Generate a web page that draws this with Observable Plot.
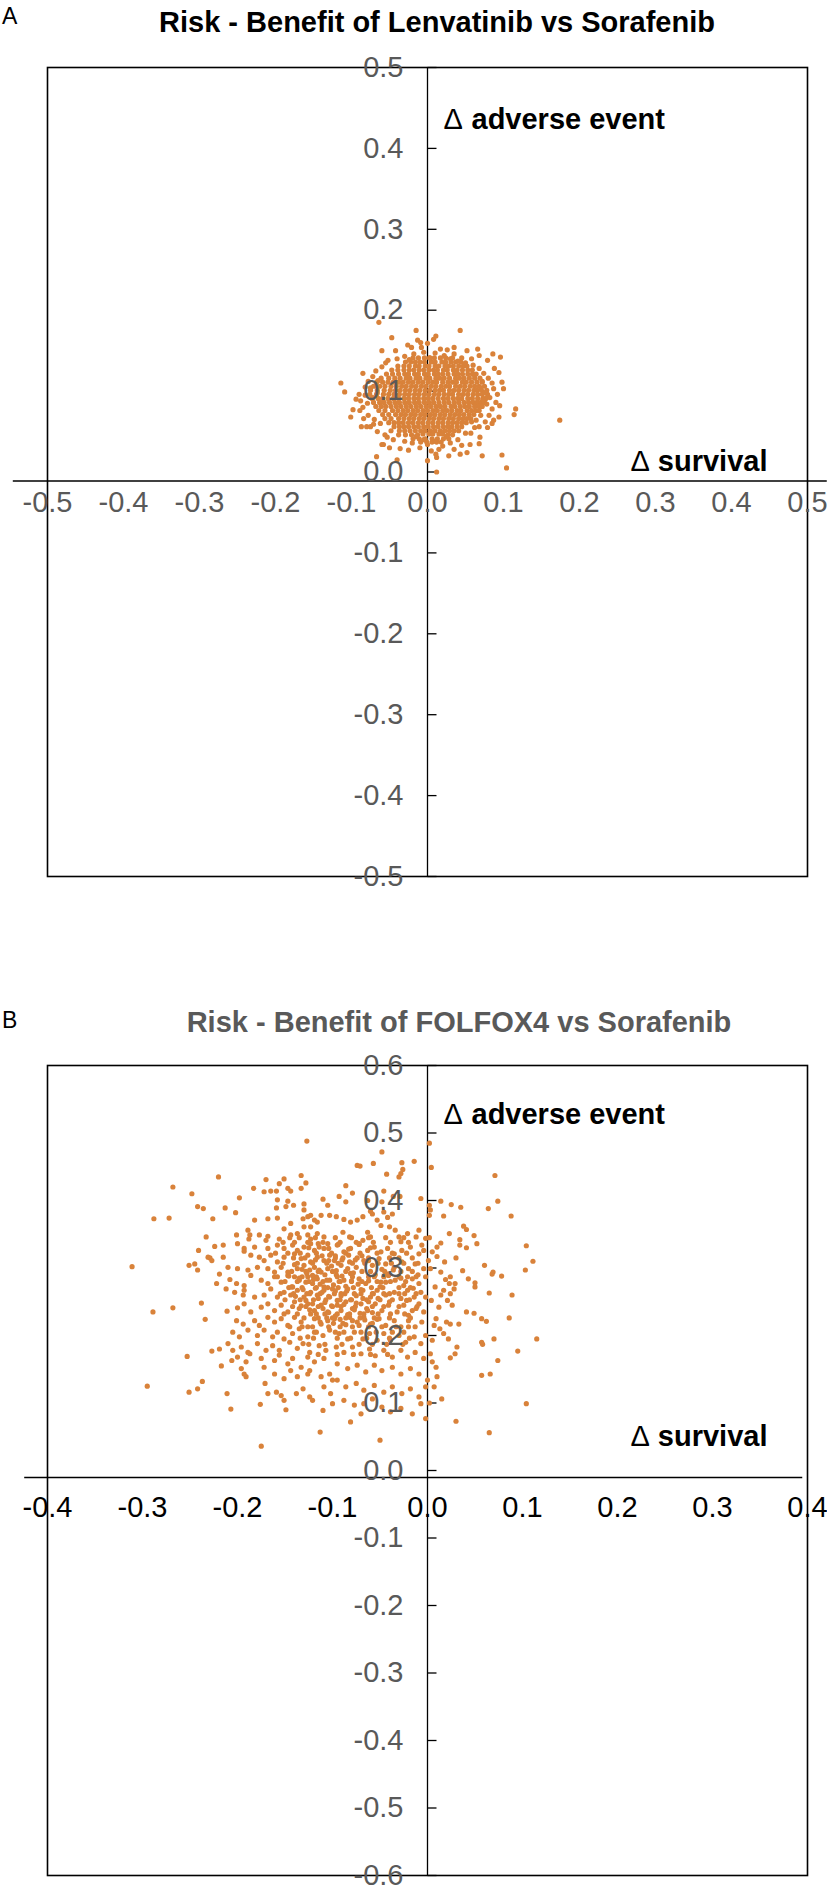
<!DOCTYPE html>
<html>
<head>
<meta charset="utf-8">
<script src="https://cdn.jsdelivr.net/npm/d3@7"></script>
<script src="https://cdn.jsdelivr.net/npm/@observablehq/plot@0.6"></script>
<style>
  html, body { margin: 0; padding: 0; background: #fff; }
  #fig { position: relative; width: 827px; height: 1890px; background: #fff;
         font-family: 'Liberation Sans', Arial, Helvetica, sans-serif; }
  .lbl { position: absolute; font-size: 23px; line-height: 23px; color: #000; }
  .title { position: absolute; font-size: 29px; line-height: 29px; font-weight: bold;
           white-space: nowrap; transform: translateX(-50%); }
  .panel { position: absolute; left: 0; }
</style>
</head>
<body>
<div id="fig">
  <div class="lbl" style="left:2px; top:5px;">A</div>
  <div class="title" style="left:437px; top:8px; color:#000;">Risk - Benefit of Lenvatinib vs Sorafenib</div>
  <div class="panel" id="panelA" style="top:40px;"></div>
  <div class="lbl" style="left:2px; top:1009px;">B</div>
  <div class="title" style="left:459px; top:1008px; color:#595959;">Risk - Benefit of FOLFOX4 vs Sorafenib</div>
  <div class="panel" id="panelB" style="top:1040px;"></div>
</div>
<script>
// ---------- tick values ----------
const lenvatinibTicks = [-0.5, -0.4, -0.3, -0.2, -0.1, 0, 0.1, 0.2, 0.3, 0.4, 0.5];
const folfoxXTicks = [-0.4, -0.3, -0.2, -0.1, 0, 0.1, 0.2, 0.3, 0.4];
const folfoxYTicks = [-0.6, -0.5, -0.4, -0.3, -0.2, -0.1, 0, 0.1, 0.2, 0.3, 0.4, 0.5, 0.6];

// ---------- Panel A: Lenvatinib vs Sorafenib  [Δ survival, Δ adverse event] in thousandths ----------
const lenvatinibOuter = [[-64,185],[-15,175],[43,175],[11,168],[8,164],[-47,166],[0,159],[-13,163],[-9,160],[-60,150],[-42,150],[-26,157],[-21,154],[26,151],[35,154],[52,150],[66,152],[68,144],[86,146],[96,142],[79,138],[94,123],[98,111],[100,103],[87,103],[-114,110],[-109,99],[-85,122],[-98,77],[-101,68],[-87,56],[-80,56],[-71,59],[-58,34],[-67,19],[-40,15],[-36,29],[0,14],[12,0],[11,22],[12,18],[28,20],[43,22],[52,24],[56,34],[68,35],[69,43],[72,20],[98,21],[104,5],[116,78],[114,71],[174,64],[94,68],[87,64],[81,70],[79,55],[62,55],[57,48],[-53,43],[-60,34],[-48,51],[-89,76],[-75,56]];
const lenvatinibRing = [[-30,143],[-18,146],[-5,148],[10,147],[22,144],[35,146],[45,141],[58,140],[-40,140],[-52,138],[17,152],[-8,154],[30,140],[3,141],[-24,139],[40,137],
  [-60,130],[-68,125],[-72,118],[-78,112],[-65,113],[60,132],[68,128],[74,122],[80,116],[85,110],[72,112],[-55,135],[50,135],[-82,105],[88,128],[62,120],
  [-75,104],[-82,95],[-88,88],[-79,85],[-85,80],[-72,92],[-66,98],[-90,96],[70,104],[76,98],[82,92],[90,86],[78,84],[85,78],[73,90],[92,96],[-94,90],[95,82],
  [-78,70],[-70,65],[-62,60],[-84,66],[-66,50],[-56,46],[70,70],[64,64],[76,62],[68,56],[58,62],[85,60],[50,48],[-45,40],[-30,38],
  [-20,36],[-10,30],[0,34],[10,38],[20,32],[30,36],[40,40],[-25,27],[5,26],[15,28],[35,28],[-5,40],[25,44],[-38,46],[45,33],[-15,44],[-50,30]];
const lenvatinibCoreRows = [
  [136, [-10,-4,5,10,19,24]],
  [131, [-24,-16,-11,-3,2,10,15,23,28,34,41]],
  [126, [-31,-24,-18,-11,-5,2,8,13,21,26,34,39,46]],
  [121, [-38,-30,-25,-17,-12,-4,1,9,14,20,27,35,40,46,53]],
  [116, [-43,-36,-28,-23,-15,-10,-2,3,11,16,22,29,37,42,48,55]],
  [111, [-45,-38,-32,-25,-19,-12,-6,1,7,12,20,27,33,38,46,51,58]],
  [106, [-48,-41,-34,-28,-21,-15,-8,-2,5,11,18,24,29,37,43,49,56,62]],
  [101, [-49,-42,-36,-29,-23,-16,-10,-3,3,10,16,21,29,35,41,48,54,61,65]],
  [96,  [-51,-44,-37,-30,-24,-17,-11,-4,2,9,15,22,28,33,41,47,53,60,66]],
  [91,  [-52,-45,-38,-31,-25,-18,-12,-5,1,7,14,21,27,34,40,45,53,59,66]],
  [86,  [-50,-43,-37,-30,-24,-17,-11,-4,2,8,15,22,28,35,41,48,54,60,65]],
  [81,  [-48,-41,-35,-28,-22,-15,-9,-2,4,11,17,23,31,36,43,49,55,62]],
  [76,  [-46,-39,-32,-26,-19,-13,-6,0,7,13,20,26,32,39,44,52,58]],
  [71,  [-42,-35,-29,-22,-16,-9,-3,4,10,17,23,30,36,42,48,55]],
  [66,  [-38,-31,-24,-18,-11,-5,2,8,15,21,28,34,41,47,52]],
  [61,  [-32,-25,-19,-12,-6,1,7,14,20,27,33,39,45]],
  [56,  [-25,-18,-12,-5,1,8,14,21,27,32,39]],
  [51,  [-16,-9,-3,4,10,17,23,29]],
  [47,  [-6,2,7,15,20]]
];
const lenvatinibFringeRows = [
  [141, [-19,-12,-4,3,9,17,24,33]],
  [136, [-29,-22,-16,31,37,44]],
  [131, [-39,-31,47,52]],
  [126, [-47,-39,53,59]],
  [121, [-54,-46,59,64]],
  [116, [-61,-51,62,69]],
  [111, [-67,-59,-52,65,72]],
  [106, [-71,-63,-56,68,75]],
  [101, [-75,-66,-57,71,78]],
  [96,  [-76,-67,-58,72,79]],
  [91,  [-73,-65,-59,73,77]],
  [86,  [-71,-63,-57,70,75]],
  [81,  [-68,-61,-55,68,72]],
  [76,  [-64,-56,64,68]],
  [71,  [-59,-51,61]],
  [66,  [-56,-48,57]],
  [61,  [-51,-44,-38,51]],
  [56,  [-44,-37,-31,45]],
  [51,  [-37,-30,-23,35,41]],
  [46,  [-29,-21,-13,27,33]],
  [41,  [-19,-11,-3,6,13,21,28]],
  [37,  [-9,-1,6,12,18]]
];

// ---------- Panel B: FOLFOX4 vs Sorafenib  [Δ survival, Δ adverse event] in thousandths ----------
const folfoxLeft = [[-127,488],
  [-220,435],[-170,431],[-151,432],[-133,437],
  [-268,420],[-128,426],[-156,425],[-147,418],[-144,414],[-183,418],[-172,413],[-165,414],[-159,414],[-133,418],
  [-248,410],[-198,404],[-158,401],[-147,399],[-141,393],[-130,395],[-110,402],
  [-242,391],[-236,388],[-213,389],[-202,382],[-159,389],[-149,391],[-130,386],[-105,393],
  [-288,373],[-272,374],[-226,373],[-182,371],[-168,373],[-158,374],[-131,373],[-126,376],[-123,378],[-119,371],[-112,378],[-103,378],
  [-144,366],[-151,358],[-116,368],[-189,356],[-130,361],[-123,361],
  [-233,346],[-201,349],[-187,349],[-177,349],[-168,347],[-188,343],[-170,341],[-156,343],[-144,349],[-137,351],[-126,349],[-123,343],[-116,351],[-109,346],
  [-200,336],[-224,332],[-215,334],[-193,329],[-193,325],[-182,331],[-168,329],[-158,334],[-151,329],[-142,334],[-137,326],[-130,331],[-123,336],[-119,326],[-114,331],[-109,329],[-105,336],
  [-241,326],[-231,316],[-229,315],[-227,311],[-215,316],[-186,319],[-177,316],[-172,311],[-165,319],[-158,309],[-151,316],[-140,321],[-133,314],[-126,319],[-123,309],[-116,316],[-109,311],[-103,319],
  [-251,304],[-245,306],[-311,302],[-242,297],[-210,301],[-200,299],[-189,297],[-179,301],[-168,299],[-161,294],[-154,301],[-147,294],[-137,299],[-130,304],[-124,297],[-119,301],[-112,294],[-105,299],
  [-219,291],[-222,277],[-208,283],[-201,277],[-193,274],[-186,289],[-175,282],[-168,277],[-161,287],[-154,279],[-147,289],[-142,272],[-135,282],[-126,287],[-121,277],[-116,284],[-109,272],[-103,282],
  [-212,269],[-203,264],[-194,260],[-193,267],[-182,257],[-172,260],[-165,269],[-158,257],[-151,264],[-144,260],[-137,267],[-130,257],[-123,264],[-116,260],[-109,267],[-103,257],
  [-238,248],[-211,236],[-289,235],[-268,241],[-200,241],[-193,247],[-186,235],[-175,242],[-168,247],[-161,237],[-154,245],[-147,235],[-140,250],[-135,240],[-126,247],[-119,237],[-112,245],[-105,235],
  [-234,224],[-201,222],[-194,217],[-182,222],[-177,215],[-168,227],[-161,220],[-154,225],[-147,215],[-140,227],[-133,220],[-126,213],[-119,225],[-112,217],[-105,222],
  [-205,205],[-198,198],[-189,208],[-179,200],[-172,208],[-163,198],[-158,205],[-151,195],[-142,203],[-135,210],[-126,198],[-119,205],[-110,200],[-103,208],
  [-227,177],[-219,180],[-210,188],[-205,178],[-196,183],[-189,175],[-179,188],[-170,178],[-163,185],[-156,178],[-145,190],[-137,181],[-131,188],[-124,175],[-114,185],[-107,178],
  [-253,169],[-217,155],[-206,163],[-200,168],[-191,161],[-187,173],[-175,166],[-172,153],[-161,163],[-156,171],[-147,158],[-142,166],[-133,153],[-126,168],[-119,161],[-109,166],
  [-196,151],[-191,139],[-193,143],[-171,129],[-161,143],[-151,136],[-144,148],[-137,139],[-126,143],[-124,148],[-112,139],[-103,143],[-100,134],
  [-295,125],[-251,116],[-242,121],[-237,132],[-211,114],[-168,114],[-159,116],[-154,111],[-138,114],[-131,121],[-124,109],[-109,124],[-102,114],
  [-207,91],[-176,98],[-149,90],[-151,104],[-121,104],[-110,89],[-100,99],
  [-175,36],[-113,57]];
const folfoxRight = [[2,485],[4,449],[71,437],[74,399],[64,388],[88,377],[104,333],[111,310],[103,297],[115,195],[95,177],[104,99],[65,56],[30,73],[15,106],
  [14,399],[25,394],[35,390],[17,377],[38,362],[41,357],[23,351],[34,342],[34,334],[41,330],[10,317],[18,309],[30,315],[60,304],[69,294],[68,291],[78,288],
  [37,296],[43,284],[50,278],[19,283],[23,277],[29,277],[28,269],[65,263],[89,260],[41,235],[49,233],[57,225],[62,221],[86,226],[70,195],[57,190],[58,187],
  [74,163],[57,141],[66,143],[20,220],[24,217],[33,217],[21,252],[17,267],[14,260],[24,262],[26,245],[13,210],[17,203],[22,195],[31,183],[29,173],[24,167],
  [9,225],[7,215],[5,193],[3,173],[10,139],[7,124],[5,161],[9,153],[2,100],[12,242],[24,287],[14,294],[10,331],[5,324],[14,337],
  [2,393],[3,386],[2,378],[2,345],[1,311],[3,299],[8,272],[4,252],[52,336],[49,348],[50,272],
  [-48,472],[-74,452],[-71,451],[-57,455],[-27,456],[-14,458],[-43,439],[-30,435],[-26,446],[-28,440],[-86,422],[-7,403],[-46,414],[-36,406],[-29,406],
  [-63,400],[-48,398],[-60,384],[-58,380],[-37,380],[-46,383],[-42,375],[-93,406],[-86,398],[-79,411],[-96,376],[-88,372],[-81,368],[-74,371],[-68,376],
  [-53,371],[-49,363],[-40,361],[-34,356],[-21,351],[-12,346],[-9,356],[-2,344],[-30,346],[-28,339],[-63,353],[-60,346],[-68,341],[-89,353],[-82,346],
  [-95,334],[-88,324],[-81,329],[-72,335],[-63,326],[-56,331],[-49,324],[-42,329],[-35,321],[-27,326],[-18,331],[-9,321],[-4,326],[-6,334],
  [-98,311],[-91,304],[-82,309],[-75,301],[-67,311],[-58,304],[-51,314],[-44,306],[-35,301],[-27,309],[-20,299],[-13,306],[-4,299],
  [-96,290],[-88,282],[-81,292],[-72,284],[-65,277],[-56,287],[-49,279],[-41,289],[-34,282],[-25,274],[-16,284],[-9,277],[-2,287],
  [-100,269],[-91,262],[-84,269],[-75,259],[-68,267],[-60,257],[-53,267],[-44,260],[-35,264],[-28,255],[-21,267],[-14,257],[-7,264],[-2,257],
  [-95,245],[-86,250],[-79,240],[-70,247],[-63,237],[-55,247],[-48,237],[-41,245],[-32,235],[-25,245],[-16,237],[-9,247],[-4,235],
  [-98,225],[-89,218],[-82,227],[-74,220],[-67,227],[-58,218],[-51,225],[-44,215],[-35,222],[-28,213],[-20,222],[-13,213],[-6,220],
  [-93,203],[-84,195],[-77,205],[-68,195],[-61,203],[-53,193],[-46,203],[-39,193],[-30,200],[-23,190],[-14,198],[-7,188],[-2,200],
  [-96,183],[-88,175],[-79,183],[-70,173],[-61,180],[-55,170],[-46,178],[-37,168],[-28,178],[-21,168],[-13,175],[-4,166],
  [-95,158],[-84,151],[-74,156],[-65,146],[-56,156],[-48,148],[-37,153],[-28,143],[-18,151],[-9,143],
  [-95,134],[-86,124],[-75,129],[-67,119],[-56,126],[-46,116],[-37,124],[-27,114],[-18,121],[-9,109],
  [-88,104],[-77,97],[-67,99],[-58,106],[-48,94],[-39,87],[-28,92],[-16,84],[-7,99],[-2,77],[-50,45],[-81,72],[-70,84],[-2,124],[0,134]];
const folfoxCoreRows = [
  [345, [-145,-135,-118,-97,-80,-62,-44,-25]],
  [338, [-152,-140,-126,-110,-92,-75,-57,-39,-20]],
  [322, [-160,-147,-134,-117,-101,-86,-71,-53,-37,-22]],
  [315, [-141,-129,-97,-89,-74,-62,-40,-30,-16]],
  [307, [-152,-137,-121,-106,-94,-79,-66,-52,-38,-25,-10]],
  [295, [-143,-128,-115,-100,-86,-69,-60,-45,-28,-16]],
  [287, [-158,-140,-132,-117,-95,-79,-62,-46,-30,-21,-12]],
  [280, [-150,-137,-125,-110,-92,-80,-69,-53,-39,-23]],
  [271, [-146,-132,-117,-105,-94,-78,-59,-47,-30,-18]],
  [262, [-155,-141,-127,-113,-98,-87,-70,-57,-40,-24,-12]],
  [253, [-150,-134,-120,-107,-92,-80,-64,-50,-37,-19]],
  [243, [-142,-128,-115,-100,-91,-76,-58,-46,-30,-11]],
  [232, [-151,-137,-123,-108,-95,-82,-67,-52,-39,-24]],
  [226, [-130,-115,-100,-86,-71,-56,-40,-18]],
  [213, [-145,-132,-121,-104,-92,-79,-62,-48,-33,-20]],
  [205, [-117,-97,-88,-70,-54,-37,-25]],
  [196, [-134,-120,-95,-81,-64,-40,-19]],
  [187, [-125,-108,-90,-72,-58,-43,-26]],
  [172, [-115,-95,-78,-60,-42]]
];
const folfoxCluster = [[-132,298],[-127,292],[-121,289],[-114,297],[-108,290],[-101,303],[-96,296],[-90,288],[-84,299],[-78,293],
  [-135,285],[-128,279],[-120,283],[-113,276],[-106,282],[-99,275],[-93,280],[-86,273],[-80,281],[-73,276],
  [-131,268],[-124,262],[-118,270],[-111,264],[-104,258],[-97,266],[-91,259],[-85,266],[-77,262],[-70,268],
  [-128,252],[-121,247],[-115,255],[-108,249],[-101,244],[-95,252],[-88,246],[-81,253],[-75,248],[-68,255],[-62,250],
  [-124,238],[-117,232],[-110,240],[-104,234],[-97,229],[-91,237],[-84,231],[-77,238],[-71,233],[-64,240],[-58,234],
  [-113,220],[-106,226],[-99,218],[-92,224],[-86,216],[-79,222],[-72,215],[-66,223],[-60,217],[-53,224],
  [-118,312],[-111,318],[-104,311],[-97,318],[-90,312],[-83,319],[-76,312],[-69,318],[-62,311],
  [-125,330],[-115,336],[-104,329],[-94,335],[-83,328],[-72,336],[-60,330],
  [-140,305],[-146,288],[-143,272],[-139,258],[-133,244],
  [-55,290],[-48,298],[-42,291],[-36,297],[-62,281],[-50,272],[-44,279],[-58,262],[-52,255],[-46,262],[-40,250],
  [-30,262],[-22,252],[-28,285],[-15,270],[-10,290],[-20,230],[-12,240]];

// ---------- helpers ----------
const orange = "#D9823A";
const gray = "#595959";
const fontFamily = "'Liberation Sans', Arial, Helvetica, sans-serif";
const fromPairs = pairs => pairs.map(([x, y]) => ({x: x / 1000, y: y / 1000}));
const fromRows = rows => rows.flatMap(([y, xs]) => xs.map(x => ({x: x / 1000, y: y / 1000})));
const tickMark = {draw(context) { context.moveTo(0, 0); context.lineTo(9, 0); }};

function panel(o) {
  const bold = {fontWeight: "bold", fontSize: 29, fill: "black", textAnchor: "start"};
  const thin = {fontWeight: "normal", fontSize: 29, fill: "black", textAnchor: "start"};
  return Plot.plot({
    width: 827, height: o.height,
    marginLeft: 47, marginRight: 20, marginTop: o.marginTop, marginBottom: o.marginBottom,
    x: {domain: o.xDomain, axis: null},
    y: {domain: o.yDomain, axis: null},
    style: {fontFamily, background: "white", overflow: "visible"},
    marks: [
      Plot.frame({stroke: "black", strokeWidth: 1.6}),
      Plot.ruleX([0], {stroke: "black", strokeWidth: 1.3}),
      Plot.ruleY([0], {x1: o.axisExtent[0], x2: o.axisExtent[1], dy: o.xAxisDy, stroke: "black", strokeWidth: 1.3}),
      Plot.dot(o.yTicks, {x: 0, y: d => d, symbol: tickMark, stroke: "black", fill: "none", strokeWidth: 1.3}),
      Plot.dot(o.points, {x: "x", y: "y", r: 2.6, fill: orange}),
      Plot.text(o.yTicks, {x: 0, y: d => d, text: d => d.toFixed(1), textAnchor: "end", dx: -24, fill: gray, fontSize: 29}),
      Plot.text(o.xTicks, {x: d => d, y: 0, text: d => d.toFixed(1), dy: o.xLabelDy, fill: o.xLabelFill, fontSize: 29}),
      Plot.text(["\u0394"], {x: 0, y: o.yDomain[1], text: d => d, dx: 16, dy: o.adverseDy, ...thin}),
      Plot.text(["adverse event"], {x: 0, y: o.yDomain[1], text: d => d, dx: 44, dy: o.adverseDy, ...bold}),
      Plot.text(["\u0394"], {x: o.xDomain[1], y: 0, text: d => d, dx: -177, dy: o.survivalDy, ...thin}),
      Plot.text(["survival"], {x: o.xDomain[1], y: 0, text: d => d, dx: -40, dy: o.survivalDy, ...bold, textAnchor: "end"})
    ]
  });
}

const pointsA = [...fromRows(lenvatinibCoreRows), ...fromRows(lenvatinibFringeRows), ...fromPairs(lenvatinibRing), ...fromPairs(lenvatinibOuter)];
const pointsB = [...fromPairs(folfoxLeft), ...fromPairs(folfoxRight), ...fromRows(folfoxCoreRows), ...fromPairs(folfoxCluster)];

document.getElementById("panelA").appendChild(panel({
  height: 860, marginTop: 27, marginBottom: 24,
  xDomain: [-0.5, 0.5], yDomain: [-0.5, 0.5],
  xTicks: lenvatinibTicks, yTicks: lenvatinibTicks,
  axisExtent: [-0.545, 0.526], xAxisDy: 9, xLabelDy: 31, xLabelFill: gray,
  adverseDy: 52, survivalDy: -10, points: pointsA
}));

document.getElementById("panelB").appendChild(panel({
  height: 850, marginTop: 25, marginBottom: 15,
  xDomain: [-0.4, 0.4], yDomain: [-0.6, 0.6],
  xTicks: folfoxXTicks, yTicks: folfoxYTicks,
  axisExtent: [-0.424, 0.395], xAxisDy: 7, xLabelDy: 37, xLabelFill: "black",
  adverseDy: 49, survivalDy: -34, points: pointsB
}));
</script>
</body>
</html>
